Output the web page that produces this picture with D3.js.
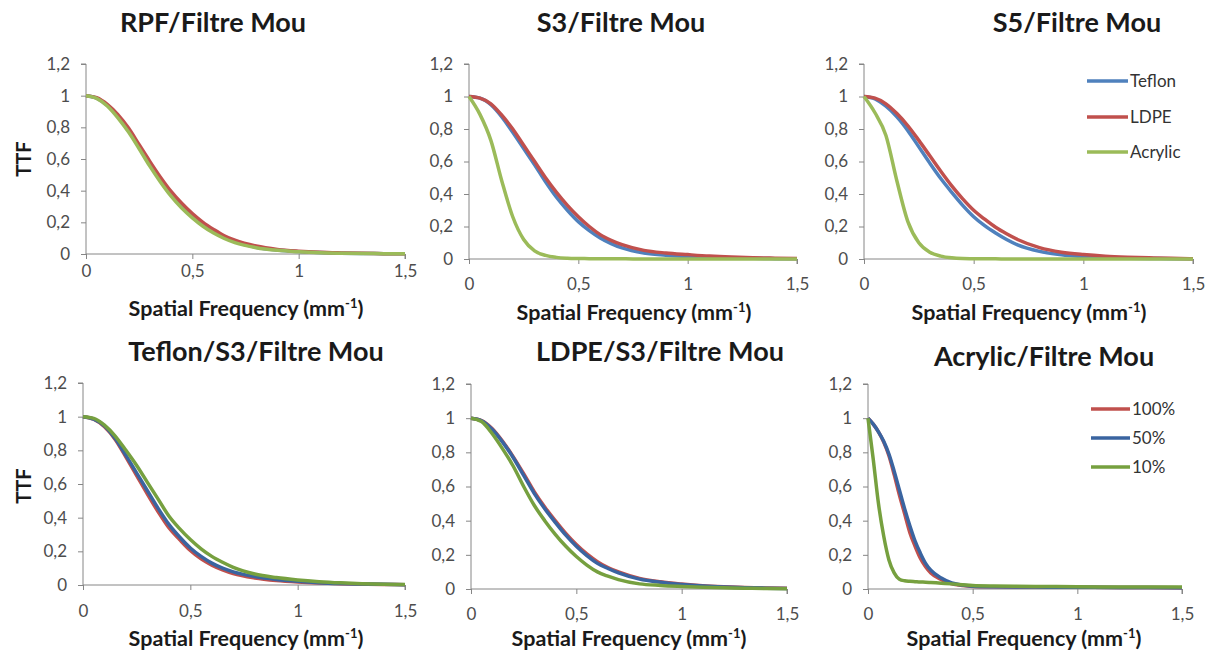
<!DOCTYPE html>
<html>
<head>
<meta charset="utf-8">
<script src="https://cdn.jsdelivr.net/npm/d3@7"></script>
<style>
  html, body { margin: 0; padding: 0; background: #fff; }
  svg { display: block; }
  text { font-family: Lato, "Open Sans", sans-serif; }
</style>
</head>
<body>
<svg id="chart" width="1216" height="655"></svg>
<script>
// ---------------- DATA ----------------
const freqA = [0,0.05,0.1,0.15,0.2,0.25,0.3,0.35,0.4,0.45,0.5,0.55,0.6,0.65,0.7,0.8,0.9,1.0,1.1,1.2,1.3,1.4,1.5];
const freqB = [0,0.025,0.05,0.075,0.1,0.125,0.15,0.175,0.2,0.225,0.25,0.275,0.3,0.35,0.4,0.45,0.5,0.6,0.7,0.8,0.9,1.0,1.2,1.5];

const xTicks = [0, 0.5, 1, 1.5];
const xTickLabels = ["0", "0,5", "1", "1,5"];
const yTicks = [0, 0.2, 0.4, 0.6, 0.8, 1, 1.2];
const yTickLabels = ["0", "0,2", "0,4", "0,6", "0,8", "1", "1,2"];

const titles = ["RPF/Filtre Mou", "S3/Filtre Mou", "S5/Filtre Mou",
                "Teflon/S3/Filtre Mou", "LDPE/S3/Filtre Mou", "Acrylic/Filtre Mou"];
const materialNames = ["Teflon", "LDPE", "Acrylic"];
const doseNames = ["100%", "50%", "10%"];

// RPF / Filtre Mou
const rpfTeflon  = [1,0.985,0.94,0.87,0.785,0.68,0.57,0.47,0.38,0.305,0.24,0.185,0.14,0.105,0.078,0.043,0.025,0.015,0.009,0.005,0.003,0.002,0.001];
const rpfLDPE    = [1,0.987,0.945,0.88,0.795,0.69,0.585,0.485,0.395,0.32,0.255,0.2,0.155,0.115,0.087,0.05,0.029,0.018,0.011,0.007,0.004,0.002,0.001];
const rpfAcrylic = [1,0.983,0.935,0.86,0.77,0.665,0.555,0.455,0.365,0.29,0.228,0.175,0.132,0.098,0.072,0.04,0.023,0.014,0.008,0.005,0.003,0.002,0.001];
// S3 / Filtre Mou
const s3Teflon  = [1,0.99,0.95,0.875,0.78,0.68,0.58,0.475,0.38,0.3,0.23,0.175,0.13,0.095,0.068,0.037,0.023,0.016,0.01,0.006,0.004,0.002,0.001];
const s3LDPE    = [1,0.99,0.955,0.885,0.80,0.70,0.60,0.50,0.41,0.33,0.26,0.2,0.15,0.115,0.088,0.053,0.037,0.027,0.018,0.012,0.008,0.005,0.003];
const s3Acrylic = [1,0.89,0.73,0.48,0.26,0.12,0.05,0.022,0.01,0.005,0.003,0.002,0.001,0.001,0.001,0,0,0,0,0,0,0,0];
// S5 / Filtre Mou
const s5Teflon  = [1,0.985,0.94,0.875,0.79,0.69,0.59,0.495,0.41,0.33,0.26,0.205,0.16,0.12,0.087,0.047,0.026,0.015,0.008,0.005,0.003,0.002,0.001];
const s5LDPE    = [1,0.99,0.955,0.895,0.82,0.73,0.635,0.54,0.45,0.37,0.30,0.245,0.195,0.155,0.12,0.07,0.042,0.027,0.017,0.011,0.007,0.004,0.002];
const s5Acrylic = [1,0.90,0.76,0.48,0.23,0.10,0.042,0.018,0.007,0.003,0.002,0.001,0.001,0,0,0,0,0,0,0,0,0,0];
// Teflon / S3 / Filtre Mou
const teflon100 = [1,0.985,0.94,0.865,0.76,0.65,0.54,0.435,0.34,0.27,0.205,0.155,0.118,0.09,0.068,0.042,0.027,0.018,0.012,0.008,0.005,0.003,0.002];
const teflon50  = [1,0.985,0.945,0.87,0.77,0.665,0.56,0.455,0.36,0.285,0.22,0.17,0.13,0.1,0.078,0.05,0.033,0.022,0.014,0.009,0.006,0.004,0.002];
const teflon10  = [1,0.99,0.95,0.885,0.80,0.71,0.61,0.51,0.41,0.335,0.27,0.215,0.17,0.135,0.105,0.065,0.044,0.03,0.02,0.013,0.008,0.005,0.003];
// LDPE / S3 / Filtre Mou
const ldpe100 = [1,0.986,0.94,0.865,0.775,0.675,0.57,0.48,0.40,0.325,0.26,0.205,0.16,0.125,0.1,0.062,0.042,0.029,0.019,0.013,0.009,0.006,0.004];
const ldpe50  = [1,0.985,0.935,0.86,0.77,0.665,0.56,0.47,0.39,0.315,0.25,0.195,0.15,0.12,0.094,0.058,0.04,0.027,0.018,0.012,0.008,0.005,0.003];
const ldpe10  = [1,0.98,0.91,0.82,0.72,0.60,0.49,0.40,0.32,0.25,0.19,0.14,0.10,0.075,0.055,0.03,0.021,0.015,0.01,0.007,0.005,0.003,0.002];
// Acrylic / Filtre Mou (on freqB)
const acrylic100 = [1,0.965,0.92,0.86,0.78,0.67,0.55,0.44,0.33,0.25,0.18,0.13,0.094,0.055,0.03,0.02,0.015,0.013,0.012,0.011,0.01,0.01,0.009,0.008];
const acrylic50  = [1,0.965,0.92,0.865,0.79,0.69,0.58,0.47,0.37,0.28,0.21,0.15,0.11,0.064,0.035,0.023,0.016,0.013,0.012,0.011,0.01,0.01,0.009,0.008];
const acrylic10  = [1,0.76,0.50,0.31,0.17,0.094,0.057,0.048,0.045,0.043,0.041,0.04,0.038,0.034,0.03,0.025,0.02,0.017,0.016,0.015,0.014,0.013,0.012,0.011];

// ---------------- STYLE / LAYOUT ----------------
const topColors = ["#4f81bd", "#c0504d", "#9bbb59"];
const botColors = ["#c0504d", "#3a64a0", "#76a03f"];

const panels = [
  { title: titles[0], freq: freqA, vals: [rpfTeflon, rpfLDPE, rpfAcrylic], names: materialNames, colors: topColors,
    x0: 86, x1: 405, yT: 64, yB: 254, tx: 213, ty: 32, lx: 246, ly: 316, tickDy: 23, ttf: 159 },
  { title: titles[1], freq: freqA, vals: [s3Teflon, s3LDPE, s3Acrylic], names: materialNames, colors: topColors,
    x0: 469, x1: 797, yT: 64, yB: 259, tx: 621, ty: 32, lx: 634, ly: 320, tickDy: 31 },
  { title: titles[2], freq: freqA, vals: [s5Teflon, s5LDPE, s5Acrylic], names: materialNames, colors: topColors,
    x0: 864, x1: 1193, yT: 64, yB: 259, tx: 1077, ty: 32, lx: 1029, ly: 320, tickDy: 31,
    legend: { x1: 1087, x2: 1128, ys: [81, 117, 152] } },
  { title: titles[3], freq: freqA, vals: [teflon100, teflon50, teflon10], names: doseNames, colors: botColors,
    x0: 83, x1: 405, yT: 383, yB: 585, tx: 256, ty: 361, lx: 246, ly: 646, tickDy: 32, ttf: 486 },
  { title: titles[4], freq: freqA, vals: [ldpe100, ldpe50, ldpe10], names: doseNames, colors: botColors,
    x0: 471, x1: 787, yT: 384, yB: 589, tx: 660, ty: 361, lx: 629, ly: 646, tickDy: 31 },
  { title: titles[5], freq: freqB, vals: [acrylic100, acrylic50, acrylic10], names: doseNames, colors: botColors,
    x0: 868, x1: 1182, yT: 384, yB: 589, tx: 1044, ty: 366, lx: 1024, ly: 646, tickDy: 31,
    legend: { x1: 1091, x2: 1130, ys: [409, 438, 467] } }
];

const axisColor = "#868686";
const svg = d3.select("#chart");

panels.forEach(p => {
  const x = d3.scaleLinear().domain([0, 1.5]).range([p.x0, p.x1]);
  const y = d3.scaleLinear().domain([0, 1.2]).range([p.yB, p.yT]);
  const g = svg.append("g");

  // Title
  g.append("text").attr("x", p.tx).attr("y", p.ty).attr("text-anchor", "middle")
    .attr("font-size", 27).attr("font-weight", 700).attr("fill", "#1a1a1a").text(p.title);

  // Y axis
  const yAxis = d3.axisLeft(y).tickValues(yTicks).tickFormat((d, i) => yTickLabels[i])
    .tickSize(5).tickPadding(11);
  const ya = g.append("g").attr("transform", `translate(${p.x0},0)`).call(yAxis);
  ya.select(".domain").attr("stroke", axisColor).attr("d", `M-5,${p.yT}H0V${p.yB}`);
  ya.selectAll(".tick line").attr("stroke", axisColor);
  ya.selectAll(".tick text").attr("font-size", 17).attr("fill", "#4d4d4d")
    .attr("font-family", "Lato, sans-serif");

  // X axis
  const xAxis = d3.axisBottom(x).tickValues(xTicks).tickFormat((d, i) => xTickLabels[i])
    .tickSize(5).tickPadding(p.tickDy - 17);
  const xa = g.append("g").attr("transform", `translate(0,${p.yB})`).call(xAxis);
  xa.select(".domain").attr("stroke", axisColor).attr("d", `M${p.x0},0H${p.x1}V5`);
  xa.selectAll(".tick line").attr("stroke", axisColor);
  xa.selectAll(".tick text").attr("font-size", 17).attr("fill", "#4d4d4d")
    .attr("font-family", "Lato, sans-serif");

  // X label
  const xl = g.append("text").attr("x", p.lx).attr("y", p.ly).attr("text-anchor", "middle")
    .attr("font-size", 21.5).attr("font-weight", 700).attr("fill", "#1a1a1a");
  xl.append("tspan").text("Spatial Frequency (mm");
  xl.append("tspan").attr("font-size", 13).attr("dy", -8).text("-1");
  xl.append("tspan").attr("dy", 8).text(")");

  // TTF label
  if (p.ttf) {
    g.append("text").attr("transform", `translate(31,${p.ttf}) rotate(-90)`)
      .attr("text-anchor", "middle").attr("font-size", 20).attr("font-weight", 700)
      .attr("fill", "#1a1a1a").text("TTF");
  }

  // Lines
  const line = d3.line().x(d => x(d[0])).y(d => y(d[1])).curve(d3.curveMonotoneX);
  p.vals.forEach((vals, i) => {
    const pts = p.freq.map((f, k) => [f, vals[k]]);
    g.append("path").datum(pts).attr("d", line).attr("fill", "none")
      .attr("stroke", p.colors[i]).attr("stroke-width", 3.5).attr("stroke-linejoin", "round");
  });

  // Legend
  if (p.legend) {
    p.names.forEach((n, i) => {
      const ly = p.legend.ys[i];
      g.append("line").attr("x1", p.legend.x1).attr("x2", p.legend.x2).attr("y1", ly).attr("y2", ly)
        .attr("stroke", p.colors[i]).attr("stroke-width", 3.5);
      g.append("text").attr("x", p.legend.x2 + 2).attr("y", ly + 6).attr("font-size", 17)
        .attr("fill", "#333").text(n);
    });
  }
});
</script>
</body>
</html>
